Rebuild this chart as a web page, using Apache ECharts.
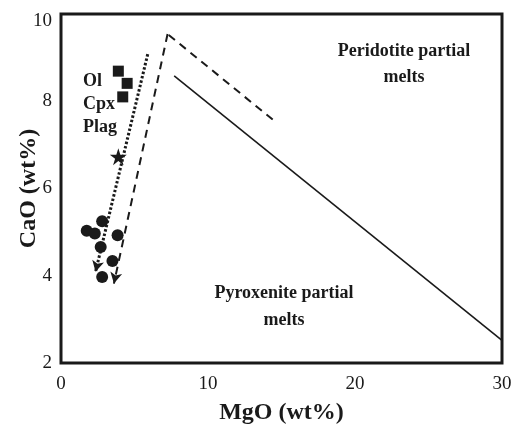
<!DOCTYPE html>
<html>
<head>
<meta charset="utf-8">
<script src="https://cdn.jsdelivr.net/npm/echarts@6/dist/echarts.min.js"></script>
<style>
  html, body { margin: 0; padding: 0; background: #fff; }
  #chart { width: 519px; height: 424px; }
</style>
</head>
<body>
<div id="chart"></div>
<script>
// Mineral compositions (MgO, CaO in wt%)
const mineralSquares = [[3.9, 8.69], [4.5, 8.41], [4.2, 8.10]];
const starPoint = [[3.9, 6.73]];
const samplePoints = [
  [2.8, 5.25], [1.75, 5.03], [2.3, 4.97], [3.85, 4.93],
  [2.7, 4.66], [3.5, 4.34], [2.8, 3.97]
];
// Fractionation trend (dotted) and liquid line of descent (dashed)
const dottedTrend = [[5.9, 9.08], [2.35, 4.09]];
const dashedTrend = [[14.4, 7.58], [7.25, 9.54], [3.6, 3.82]];
// Boundary between peridotite and pyroxenite partial melts
const solidBoundary = [[7.7, 8.58], [30, 2.52]];
// Axes
const xTicks = [0, 10, 20, 30];
const yTicks = [2, 4, 6, 8, 10];
const mineralLabels = ['Ol', 'Cpx', 'Plag'];

const serif = '"Liberation Serif", "Times New Roman", serif';
const ink = '#1a1a1a';

const starPath = 'path://M50,0 L61.8,35.3 L100,35.3 L69.1,57.1 L80.9,92.7 L50,70.5 L19.1,92.7 L30.9,57.1 L0,35.3 L38.2,35.3 Z';

// Straight segments in data coordinates, optionally ending with an arrowhead
function segs(points, endArrow, lineType, width) {
  const data = [];
  for (let i = 0; i < points.length - 1; i++) {
    const last = i === points.length - 2;
    data.push([
      { coord: points[i], symbol: 'none' },
      { coord: points[i + 1], symbol: (last && endArrow) ? 'arrow' : 'none', symbolSize: [9, 11] }
    ]);
  }
  return {
    type: 'line',
    data: [],
    markLine: {
      silent: true,
      animation: false,
      label: { show: false },
      lineStyle: { color: ink, type: lineType, width: width, opacity: 1 },
      emphasis: { disabled: true },
      data: data
    }
  };
}

const chart = echarts.init(document.getElementById('chart'), null, { renderer: 'canvas' });

const boldText = (t, x, y, align) => ({
  type: 'text', x: x, y: y,
  style: { text: t, font: 'bold 18px ' + serif, fill: ink, textAlign: align, textVerticalAlign: 'middle' }
});

const mineralGraphics = mineralLabels.map((t, i) => boldText(t, 83, 81 + i * 23, 'left'));

chart.setOption({
  animation: false,
  backgroundColor: '#fff',
  grid: {
    left: 61, right: 17, top: 14, bottom: 61,
    containLabel: false, outerBoundsMode: 'none',
    show: true, borderColor: ink, borderWidth: 3, backgroundColor: 'transparent'
  },
  xAxis: {
    type: 'value', min: xTicks[0], max: xTicks[xTicks.length - 1], interval: 10,
    name: 'MgO (wt%)', nameLocation: 'middle', nameGap: 38, nameMoveOverlap: false,
    nameTextStyle: { fontFamily: serif, fontWeight: 'bold', fontSize: 24, color: ink },
    axisLine: { show: false }, axisTick: { show: false }, splitLine: { show: false },
    axisLabel: { fontFamily: serif, fontSize: 19, color: ink, margin: 12 }
  },
  yAxis: {
    type: 'value', min: yTicks[0], max: yTicks[yTicks.length - 1], interval: 2,
    name: 'CaO (wt%)', nameLocation: 'middle', nameGap: 20, nameMoveOverlap: false,
    nameTextStyle: { fontFamily: serif, fontWeight: 'bold', fontSize: 24, color: ink },
    axisLine: { show: false }, axisTick: { show: false }, splitLine: { show: false },
    axisLabel: {
      fontFamily: serif, fontSize: 19, color: ink, margin: 9,
      formatter: v => (v === yTicks[yTicks.length - 1] ? '{t|' + v + '}' : String(v)),
      rich: { t: { fontFamily: serif, fontSize: 19, color: ink, padding: [14, 0, 0, 0] } }
    }
  },
  series: [
    segs(solidBoundary, false, 'solid', 1.6),
    segs(dashedTrend, true, [8, 6], 2),
    segs(dottedTrend, true, [2.5, 2], 3),
    {
      type: 'scatter', data: mineralSquares, symbol: 'rect', symbolSize: 11,
      itemStyle: { color: ink, opacity: 1 }, silent: true
    },
    {
      type: 'scatter', data: starPoint, symbol: starPath, symbolSize: 17,
      itemStyle: { color: ink, opacity: 1 }, silent: true
    },
    {
      type: 'scatter', data: samplePoints, symbol: 'circle', symbolSize: 12,
      itemStyle: { color: ink, opacity: 1 }, silent: true
    }
  ],
  graphic: mineralGraphics.concat([
    boldText('Peridotite partial', 404, 51, 'center'),
    boldText('melts', 404, 77, 'center'),
    boldText('Pyroxenite partial', 284, 293, 'center'),
    boldText('melts', 284, 320, 'center')
  ])
});
</script>
</body>
</html>
